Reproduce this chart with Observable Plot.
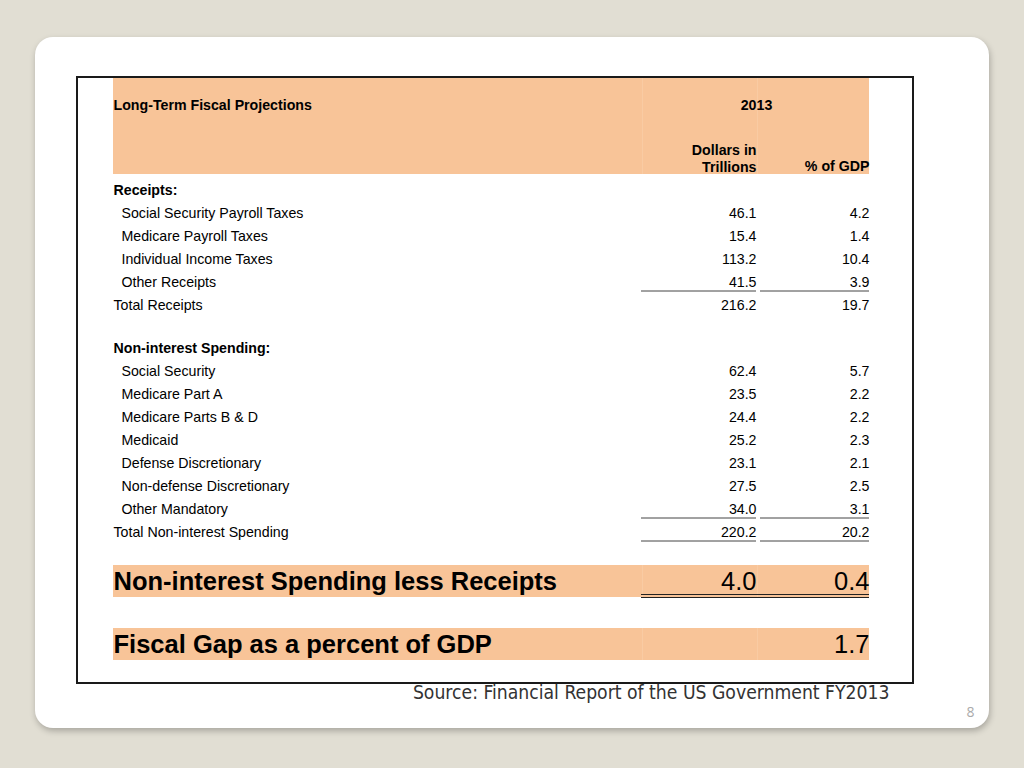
<!DOCTYPE html>
<html><head><meta charset="utf-8">
<script src="https://cdn.jsdelivr.net/npm/d3@7"></script>
<script src="https://cdn.jsdelivr.net/npm/@observablehq/plot@0.6"></script>
<style>
html,body{margin:0;padding:0;background:#e1ded3;width:1024px;height:768px;overflow:hidden}
#card{position:absolute;left:35px;top:37px;width:954px;height:691px;background:#fff;border-radius:18px;box-shadow:1px 3px 6px rgba(0,0,0,0.25)}
#chart{position:absolute;left:0;top:0}
</style></head><body><div id="card"></div><div id="chart"></div>
<script>
// ---- data ----
const tableTitle = "Long-Term Fiscal Projections";
const yearLabel = "2013";
const dollarsHead = "Dollars in\nTrillions";
const pctHead = "% of GDP";
const rowLabels = ["Receipts:", "Social Security Payroll Taxes", "Medicare Payroll Taxes", "Individual Income Taxes", "Other Receipts", "Total Receipts", "",
  "Non-interest Spending:", "Social Security", "Medicare Part A", "Medicare Parts B & D", "Medicaid", "Defense Discretionary", "Non-defense Discretionary", "Other Mandatory", "Total Non-interest Spending"];
const rowKinds = ["section", "item", "item", "item", "item", "total", "gap",
  "section", "item", "item", "item", "item", "item", "item", "item", "total"];
const dollars = [null, 46.1, 15.4, 113.2, 41.5, 216.2, null, null, 62.4, 23.5, 24.4, 25.2, 23.1, 27.5, 34.0, 220.2];
const pctGDP = [null, 4.2, 1.4, 10.4, 3.9, 19.7, null, null, 5.7, 2.2, 2.2, 2.3, 2.1, 2.5, 3.1, 20.2];
const ruledRows = ["Other Receipts", "Other Mandatory", "Total Non-interest Spending"];
const summaryLabels = ["Non-interest Spending less Receipts", "Fiscal Gap as a percent of GDP"];
const summaryDollars = [4.0, null];
const summaryPct = [0.4, 1.7];
const sourceNote = "Source: Financial Report of the US Government FY2013";
const pageNumber = "8";

// ---- layout ----
const L = {
  left: 113, indent: 121, col1: 756, col2: 869, col1Rule: 641, col2Rule: 760,
  border: [77, 913, 77, 683], header: [78, 174], firstRow: 190, rowH: 23, gapH: 21.5,
  summaryY: [581, 644], summaryH: 32, sepX: [642, 757]
};
const orange = "#f8c498";
const font = "'Liberation Sans', Arial, Helvetica, sans-serif";
const fs = 14.2, bigFs = 25.5;
const fmt = d3.format(".1f");

const ys = [];
rowKinds.forEach((k, i) => {
  if (i === 0) ys.push(L.firstRow);
  else ys.push(ys[i - 1] + ((k === "gap" || rowKinds[i - 1] === "gap") ? L.gapH : L.rowH));
});
const rows = rowLabels.map((label, i) => ({label, kind: rowKinds[i], dollars: dollars[i], pct: pctGDP[i], y: ys[i]}))
  .filter(d => d.kind !== "gap");
const summary = summaryLabels.map((label, i) => ({label, dollars: summaryDollars[i], pct: summaryPct[i], y: L.summaryY[i]}));
const ruled = rows.filter(d => ruledRows.includes(d.label));

const bands = [
  {x1: L.left, x2: L.col2, y1: L.header[0], y2: L.header[1]},
  ...summary.map(d => ({x1: L.left, x2: L.col2, y1: d.y - L.summaryH / 2, y2: d.y + L.summaryH / 2}))
];

const chart = Plot.plot({
  width: 1024, height: 768, margin: 0,
  x: {domain: [0, 1024], range: [0, 1024], axis: null},
  y: {domain: [0, 768], range: [0, 768], axis: null},
  style: {background: "transparent", fontFamily: font},
  marks: [
    Plot.rect(bands, {x1: "x1", x2: "x2", y1: "y1", y2: "y2", fill: orange}),
    Plot.ruleX(L.sepX.flatMap(x => bands.map(b => ({x, y1: b.y1, y2: b.y2}))), {x: "x", y1: "y1", y2: "y2", stroke: "#f9cba3", strokeWidth: 1}),
    Plot.rect([{x1: L.border[0], x2: L.border[1], y1: L.border[2], y2: L.border[3]}], {x1: "x1", x2: "x2", y1: "y1", y2: "y2", fill: "none", stroke: "#1a1a1a", strokeWidth: 2}),
    // header
    Plot.text([tableTitle], {x: L.left, y: 105, text: d => d, textAnchor: "start", fontWeight: "bold", fontSize: fs, fill: "#000"}),
    Plot.text([yearLabel], {x: L.col1, y: 105, text: d => d, textAnchor: "middle", fontWeight: "bold", fontSize: fs, fill: "#000"}),
    Plot.text([dollarsHead], {x: L.col1, y: 157.5, text: d => d, textAnchor: "end", fontWeight: "bold", fontSize: fs, lineHeight: 1.2, fill: "#000"}),
    Plot.text([pctHead], {x: L.col2, y: 166, text: d => d, textAnchor: "end", fontWeight: "bold", fontSize: fs, fill: "#000"}),
    // rows
    Plot.text(rows.filter(d => d.kind === "section"), {x: L.left, y: "y", text: "label", textAnchor: "start", fontWeight: "bold", fontSize: fs, fill: "#000"}),
    Plot.text(rows.filter(d => d.kind !== "section"), {x: d => d.kind === "item" ? L.indent : L.left, y: "y", text: "label", textAnchor: "start", fontSize: fs, fill: "#000"}),
    Plot.text(rows.filter(d => d.dollars != null), {x: L.col1, y: "y", text: d => fmt(d.dollars), textAnchor: "end", fontSize: fs, fill: "#000"}),
    Plot.text(rows.filter(d => d.pct != null), {x: L.col2, y: "y", text: d => fmt(d.pct), textAnchor: "end", fontSize: fs, fill: "#000"}),
    Plot.ruleY(ruled, {x1: L.col1Rule, x2: L.col1, y: d => d.y + 8.5, stroke: "#444", strokeWidth: 1}),
    Plot.ruleY(ruled, {x1: L.col2Rule, x2: L.col2, y: d => d.y + 8.5, stroke: "#444", strokeWidth: 1}),
    // summary rows
    Plot.text(summary, {x: L.left, y: "y", text: "label", textAnchor: "start", fontWeight: "bold", fontSize: bigFs, fill: "#000"}),
    Plot.text(summary.filter(d => d.dollars != null), {x: L.col1, y: "y", text: d => fmt(d.dollars), textAnchor: "end", fontSize: bigFs, fill: "#000"}),
    Plot.text(summary.filter(d => d.pct != null), {x: L.col2, y: "y", text: d => fmt(d.pct), textAnchor: "end", fontSize: bigFs, fill: "#000"}),
    Plot.ruleY(summary.filter(d => d.dollars != null).flatMap(d => [d.y + 13, d.y + 16]), {x1: L.col1Rule, x2: L.col2, y: d => d, stroke: "#222", strokeWidth: 1}),
    // source and page number
    Plot.text([sourceNote], {x: 889, y: 692, text: d => d, textAnchor: "end", fontSize: 19.2, fontFamily: "'DejaVu Sans Condensed', 'DejaVu Sans', sans-serif", fill: "#333"}),
    Plot.text([pageNumber], {x: 970, y: 712, text: d => d, textAnchor: "middle", fontSize: 14, fontFamily: "'Open Sans', sans-serif", fill: "#aaa"})
  ]
});
document.getElementById("chart").appendChild(chart);
</script></body></html>
